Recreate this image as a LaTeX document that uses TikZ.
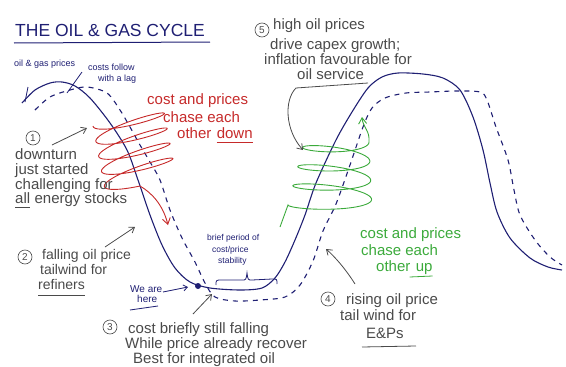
\documentclass[tikz,border=0pt]{standalone}
\usepackage{fontspec}
\setmainfont{Liberation Sans}
\usetikzlibrary{arrows.meta,calc}
\definecolor{ink}{HTML}{1F1F73}
\definecolor{pen}{HTML}{4A4A4A}
\definecolor{redpen}{HTML}{C62A2A}
\definecolor{greenpen}{HTML}{3BAA3B}
\begin{document}
\begin{tikzpicture}[x=1pt,y=-1pt,
  curve/.style={draw=ink, line width=1.1pt},
  costcurve/.style={draw=ink, line width=1.1pt, dash pattern=on 5pt off 5pt},
  note/.style={text=pen, font=\fontsize{15}{16}\selectfont, inner sep=0pt, anchor=base west},
  smallnote/.style={text=pen, font=\fontsize{14}{15}\selectfont, inner sep=0pt, anchor=base west},
  rednote/.style={text=redpen, font=\fontsize{15}{16}\selectfont, inner sep=0pt, anchor=base west},
  greennote/.style={text=greenpen, font=\fontsize{15}{16}\selectfont, inner sep=0pt, anchor=base west},
  bluenote/.style={text=ink, font=\fontsize{9}{10}\selectfont, inner sep=0pt, anchor=base west},
  num/.style={circle, draw=pen, text=pen, inner sep=0pt, minimum size=14pt, font=\fontsize{10}{10}\selectfont, line width=0.6pt},
  ptr/.style={draw=pen, line width=0.8pt, -{Straight Barb[length=5pt,width=7pt]}},
  uline/.style={line width=0.8pt}
]
\useasboundingbox (0,0) rectangle (566,367);

% title
\node[anchor=base west, text=ink, inner sep=0pt, font=\fontsize{17.5}{18}\selectfont] (title) at (15,36) {THE OIL \& GAS CYCLE};
\draw[ink, line width=1pt] (14,43) -- (210,42);

% price curve (solid)
\draw[curve] plot[smooth] coordinates {(22,103) (35,90) (50,83) (62,82) (75,86) (90,98) (110,123) (127,150) (138,180) (150,215) (162,245) (175,268) (190,282) (210,288) (240,290) (262,288) (275,278) (285,262) (295,240) (305,215) (316,183) (336,140) (352,112) (368,88) (382,77) (398,73) (423,74) (443,78) (460,90) (473,117) (483,150) (490,183) (497,212) (510,238) (530,258) (548,267) (562,270)};

% cost curve (dashed)
\draw[costcurve] plot[smooth] coordinates {(35,110) (50,97) (70,90) (87,87) (107,93) (120,110) (130,127) (140,145) (150,162) (160,180) (170,210) (182,238) (195,262) (205,283) (215,297) (235,301) (260,300) (285,297) (300,285) (313,261) (323,231) (336,204) (350,165) (363,127) (372,108) (385,98) (406,93) (430,92) (456,91) (480,92) (487,100) (496,127) (508,160) (514,190) (520,215) (535,240) (550,257) (562,265)};

% curve labels
\node[bluenote] (ogp) at (14,66) {oil \& gas prices};
\node[bluenote] (cf1) at (88,70) {costs follow};
\node[bluenote] (cf2) at (98,81) {with a lag};
\coordinate (ogpend) at (25,102);
\coordinate (cfend) at (67,93);
\draw[ink, line width=0.8pt] (28,87) -- (ogpend);
\draw[ink, line width=0.8pt] (82,72) -- (cfend);

% red spiral
\draw[redpen, line width=0.9pt, -{Straight Barb[length=6pt,width=8pt]}]
  plot[smooth, domain=0:1530, samples=300] ({128+\x/1530*12-35*cos(\x)}, {116+\x/1530*64+6*sin(\x)+10*cos(\x)})
  .. controls (152,193) and (163,205) .. (168,225);
\node[rednote] (r1) at (147,104) {cost and prices};
\node[rednote] (r2) at (163,122) {chase each};
\node[rednote] (r3) at (177,138) {other};
\node[rednote, xshift=5pt] (r3b) at (r3.base east) {down};
\draw[redpen, uline] ($(r3b.base west)+(0,4)$) -- ($(r3b.base east)+(0,4)$);

% green spiral
\draw[greenpen, line width=0.9pt, -{Straight Barb[length=6pt,width=8pt]}]
  (280,227) -- plot[smooth, domain=0:1260, samples=300] ({330+\x/1260*7-(42-\x/1260*10)*cos(\x)}, {207-\x/1260*67+7*sin(\x)-2*cos(\x)})
  .. controls (370,130) and (363,128) .. (362,117);
\node[greennote] (g1) at (360,238) {cost and prices};
\node[greennote] (g2) at (361,255) {chase each};
\node[greennote] (g3) at (376,271) {other};
\node[greennote, xshift=5pt] (g3b) at (g3.base east) {up};
\draw[greenpen, uline] ($(g3b.base west)+(-6,6)$) -- ($(g3b.base east)+(0,5)$);

% note 1
\node[num] (n1) at (33,138) {1};
\node[note] (a1) at (15,159) {downturn};
\node[note] (a2) at (15,174) {just started};
\node[note] (a3) at (15,189) {challenging for};
\node[note] (a4) at (15,203) {all};
\node[note, xshift=4pt] (a4b) at (a4.base east) {energy stocks};
\draw[pen, uline] ($(a4.base west)+(0,4)$) -- ($(a4.base east)+(0,4)$);
\coordinate (a1tip) at (87,128);
\draw[ptr] (52,145) -- (a1tip);

% note 2
\node[num] (n2) at (25,257) {2};
\node[smallnote] (b1) at (42,259) {falling oil price};
\node[smallnote] (b2) at (40,274) {tailwind for};
\node[smallnote] (b3) at (38,289) {refiners};
\draw[pen, uline] ($(b3.base west)+(0,6)$) -- ($(b3.base east)+(0,6)$);
\coordinate (b1tip) at (135,227);
\draw[ptr] (105,247) -- (b1tip);

% we are here
\fill[ink] (198,286) circle (3);
\coordinate (here) at (188,287);
\node[bluenote, font=\fontsize{10}{11}\selectfont] (w1) at (130,292) {We are};
\node[bluenote, font=\fontsize{10}{11}\selectfont] (w2) at (137,302) {here};
\draw[ink, uline] (130,310) -- (158,306);
\draw[ink, line width=0.8pt, -{Straight Barb[length=4pt,width=6pt]}] (163,292) -- (here);

% brief period
\node[bluenote, font=\fontsize{8.5}{9}\selectfont] (p1) at (207,240) {brief period of};
\node[bluenote, font=\fontsize{8.5}{9}\selectfont] (p2) at (212,252) {cost/price};
\node[bluenote, font=\fontsize{8.5}{9}\selectfont] (p3) at (218,263) {stability};
\draw[ink, line width=0.8pt] (216,285) .. controls (216,280) .. (222,280) -- (242,280) .. controls (246,280) .. (247,273) .. controls (248,280) .. (252,280) -- (272,279) .. controls (277,279) .. (277,284);

% note 3
\node[num] (n3) at (110,327) {3};
\node[note] (c1) at (128,333) {cost briefly still falling};
\node[note] (c2) at (125,348) {While price already recover};
\node[note] (c3) at (133,363) {Best for integrated oil};
\coordinate (c1tip) at (212,294);
\draw[ptr] (193,314) -- (c1tip);

% note 4
\node[num] (n4) at (328,299) {4};
\node[note] (d1) at (346,304) {rising oil price};
\node[note] (d2) at (340,320) {tail wind for};
\node[note] (d3) at (366,338) {E\&Ps};
\draw[pen, uline] (362,347) -- (416,346);
\coordinate (d1tip) at (326,249);
\draw[ptr] (355,284) .. controls (345,268) and (334,256) .. (d1tip);

% note 5
\node[num] (n5) at (262,30) {5};
\node[note] (e1) at (273,29) {high oil prices};
\node[note] (e2) at (270,49) {drive capex growth;};
\node[note] (e3) at (264,64) {inflation favourable for};
\node[note] (e4) at (297,79) {oil service};
\coordinate (e1tip) at (303,150);
\draw[pen, uline] (368,83) -- (296,88);
\draw[ptr] (296,88) .. controls (284,100) and (285,130) .. (e1tip);

\end{tikzpicture}
\end{document}
